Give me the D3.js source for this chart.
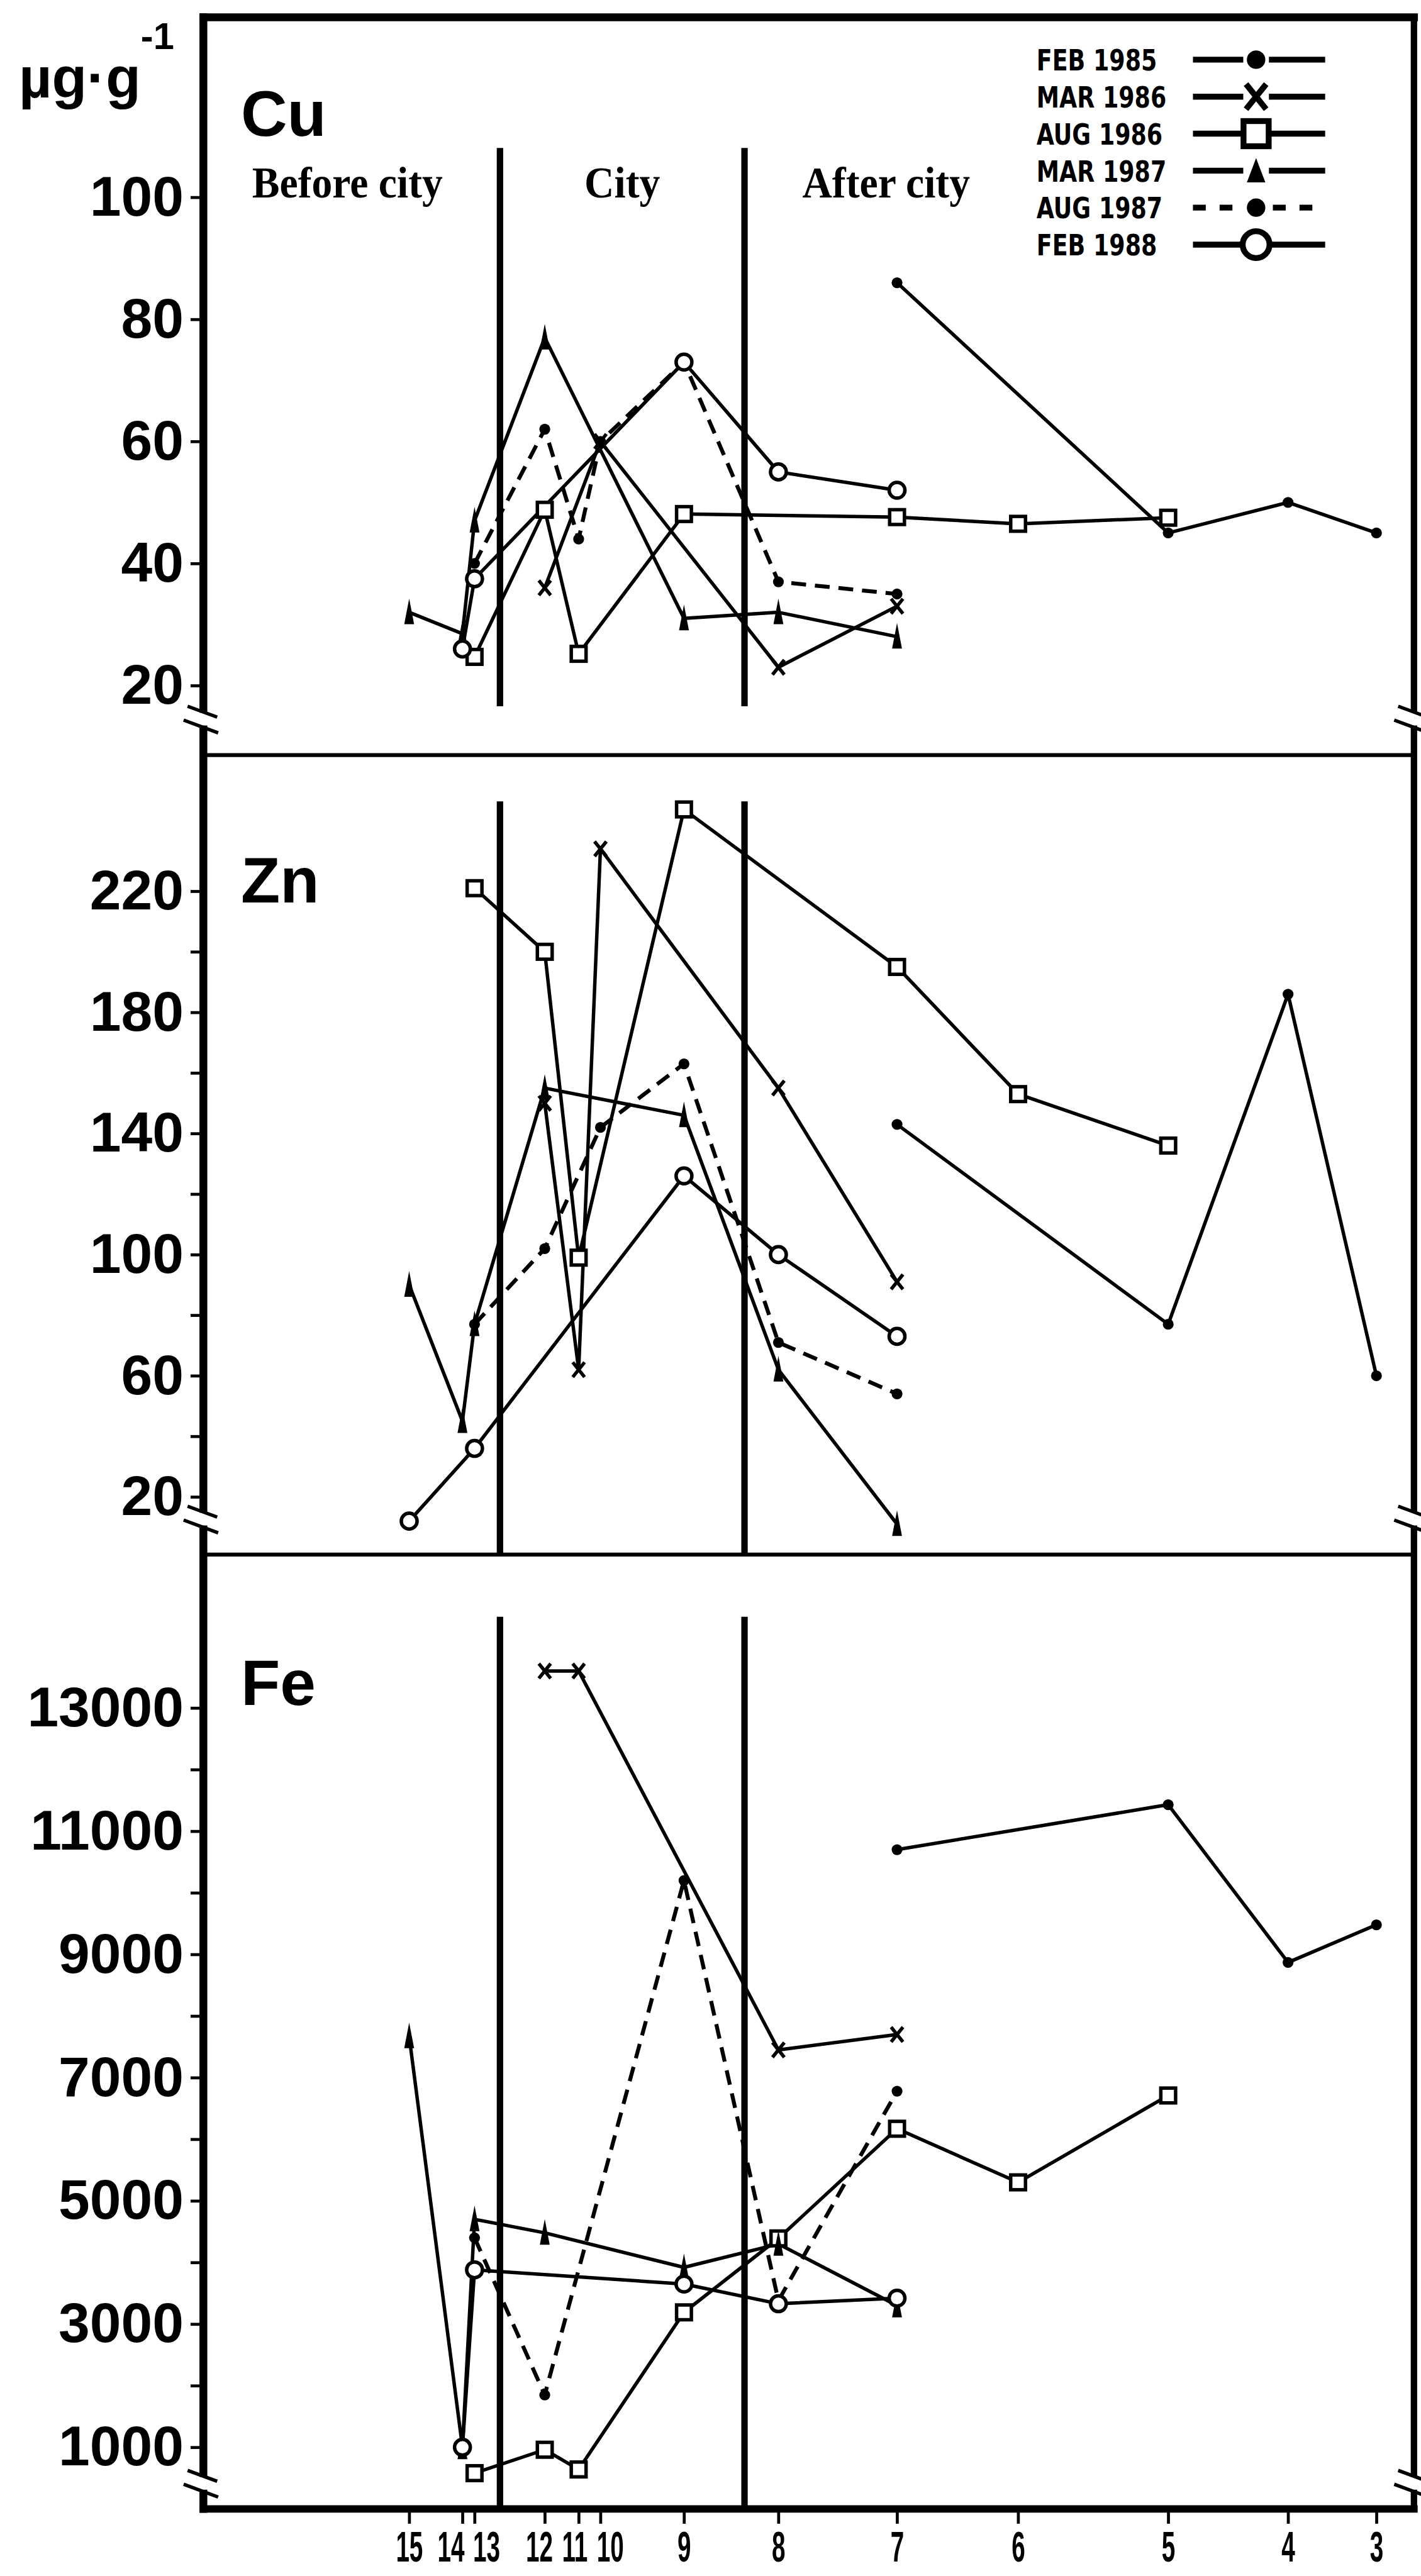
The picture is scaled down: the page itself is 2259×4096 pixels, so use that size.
<!DOCTYPE html>
<html>
<head>
<meta charset="utf-8">
<script src="https://cdn.jsdelivr.net/npm/d3@7/dist/d3.min.js"></script>
<style>
  html, body { margin: 0; padding: 0; background: #fff; }
  svg { display: block; }
</style>
</head>
<body>
<div id="chart"></div>
<script>
// sampling sites, upstream -> downstream, and their distance along the river
const sites = [15, 14, 13, 12, 11, 10, 9, 8, 7, 6, 5, 4, 3];
const siteDist = [17, 21.4, 22.4, 28.2, 31, 32.8, 39.7, 47.5, 57.3, 67.3, 79.7, 89.6, 96.9];
const cityBounds = [24.5, 44.7];
const zoneNames = ["Before city", "City", "After city"];

const surveys = ["FEB 1985", "MAR 1986", "AUG 1986", "MAR 1987", "AUG 1987", "FEB 1988"];
const surveyMarks = ["dot", "cross", "square", "spike", "dot", "circle"];
const surveyDashed = [false, false, false, false, true, false];

const cuTicks = [20, 40, 60, 80, 100];
const znTicks = [20, 60, 100, 140, 180, 220];
const znMinor = [40, 80, 120, 160, 200];
const feTicks = [1000, 3000, 5000, 7000, 9000, 11000, 13000];
const feMinor = [2000, 4000, 6000, 8000, 10000, 12000];

// [site, µg/g]
const cuFeb85 = [[7, 86], [5, 45], [4, 50], [3, 45]];
const cuMar86 = [[12, 36], [10, 60], [8, 23], [7, 33]];
const cuAug86 = [[13, 24.7], [12, 48.8], [11, 25.2], [9, 48.1], [7, 47.6], [6, 46.5], [5, 47.5]];
const cuMar87 = [[15, 32], [14, 28.5], [13, 47], [12, 77], [9, 31], [8, 32], [7, 28]];
const cuAug87 = [[13, 40], [12, 62], [11, 44], [10, 60], [9, 73], [8, 37], [7, 35]];
const cuFeb88 = [[14, 26], [13, 37.5], [9, 73], [8, 55], [7, 52]];

const znFeb85 = [[7, 143], [5, 77], [4, 186], [3, 60]];
const znMar86 = [[12, 150], [11, 62], [10, 234], [8, 155], [7, 91]];
const znAug86 = [[13, 221], [12, 200], [11, 99], [9, 247], [7, 195], [6, 153], [5, 136]];
const znMar87 = [[15, 90], [14, 45], [13, 77], [12, 155], [9, 146], [8, 62], [7, 11]];
const znAug87 = [[13, 77], [12, 102], [10, 142], [9, 163], [8, 71], [7, 54]];
const znFeb88 = [[15, 12], [13, 36], [9, 126], [8, 100], [7, 73]];

const feFeb85 = [[7, 10700], [5, 11430], [4, 8870], [3, 9480]];
const feMar86 = [[12, 13600], [11, 13600], [8, 7450], [7, 7700]];
const feAug86 = [[13, 580], [12, 960], [11, 640], [9, 3190], [8, 4390], [7, 6170], [6, 5300], [5, 6710]];
const feMar87 = [[15, 7670], [14, 1000], [13, 4700], [12, 4480], [9, 3920], [8, 4300], [7, 3300]];
const feAug87 = [[13, 4400], [12, 1850], [9, 10200], [8, 3380], [7, 6780]];
const feFeb88 = [[14, 1000], [13, 3880], [9, 3650], [8, 3330], [7, 3420]];

// ---- layout (reference pixel space, scaled by the viewBox) ----
const W = 2880, H = 5223;
const frame = {l: 412, r: 2866, t: 35, b: 5087};
const sansBold = "'Liberation Sans', Arial, Helvetica, sans-serif";

const panels = [
	{el: "Cu", top: frame.t, bottom: 1531, dom: [20, 100], rng: [1390, 400], ticks: cuTicks, minor: [],
		data: [cuFeb85, cuMar86, cuAug86, cuMar87, cuAug87, cuFeb88], sep: [300, 1432], brk: 1458, elY: 275},
	{el: "Zn", top: 1531, bottom: 3152, dom: [20, 220], rng: [3035, 1807], ticks: znTicks, minor: znMinor,
		data: [znFeb85, znMar86, znAug86, znMar87, znAug87, znFeb88], sep: [1625, 3152], brk: 3080, elY: 1830},
	{el: "Fe", top: 3152, bottom: frame.b, dom: [1000, 13000], rng: [4962, 3463], ticks: feTicks, minor: feMinor,
		data: [feFeb85, feMar86, feAug86, feMar87, feAug87, feFeb88], sep: [3278, frame.b], brk: 5035, elY: 3457}
];

const svg = d3.select("#chart").append("svg")
	.attr("width", 2259)
	.attr("height", 4096)
	.attr("viewBox", "0 0 " + W + " " + H);

svg.append("rect").attr("width", W).attr("height", H).style("fill", "#fff");

const x = d3.scaleLinear().domain([0, 100]).range([frame.l, frame.r]);
function siteX(s){
	return x(siteDist[sites.indexOf(s)]);
}

function drawMarker(g, type, cx, cy, k, inLegend){
	let m = g.append("g").attr("transform", "translate(" + cx + "," + cy + ") scale(" + k + ")");
	if(type === "dot"){
		m.append("circle").attr("r", 11).style("fill", "#000");
	}else if(type === "circle"){
		m.append("circle").attr("r", 16).style("fill", "#fff").style("stroke", "#000").style("stroke-width", 7);
	}else if(type === "square"){
		m.append("rect").attr("x", -15).attr("y", -15).attr("width", 30).attr("height", 30)
			.style("fill", "#fff").style("stroke", "#000").style("stroke-width", 7);
	}else if(type === "cross"){
		m.append("path").attr("d", "M-12,-15L12,15M-12,15L12,-15")
			.style("fill", "none").style("stroke", "#000").style("stroke-width", 7);
	}else if(type === "spike"){
		m.append("path").attr("d", inLegend ? "M0,-15L11,14L-11,14Z" : "M0,-28L10,24L-10,24Z").style("fill", "#000");
	}
}

panels.forEach(function(p){
	const y = d3.scaleLinear().domain(p.dom).range(p.rng);
	const g = svg.append("g");

	// city boundaries
	cityBounds.forEach(function(b){
		g.append("line")
			.attr("x1", x(b)).attr("x2", x(b))
			.attr("y1", p.sep[0]).attr("y2", p.sep[1])
			.style("stroke", "#000").style("stroke-width", 13);
	});

	// series lines then markers
	const line = d3.line()
		.x(function(d){ return siteX(d[0]); })
		.y(function(d){ return y(d[1]); });

	p.data.forEach(function(ser, si){
		g.append("path")
			.datum(ser)
			.attr("d", line)
			.style("fill", "none")
			.style("stroke", "#000")
			.style("stroke-width", surveyDashed[si] ? 8 : 7)
			.style("stroke-linejoin", "round")
			.style("stroke-dasharray", surveyDashed[si] ? "30,18" : null);
	});
	p.data.forEach(function(ser, si){
		ser.forEach(function(d){
			drawMarker(g, surveyMarks[si], siteX(d[0]), y(d[1]), 1, false);
		});
	});

	// y axis ticks and labels
	const yAxis = d3.axisLeft(y).tickValues(p.ticks).tickSize(26).tickPadding(14).tickFormat(d3.format("d"));
	const ag = svg.append("g").attr("transform", "translate(" + frame.l + ",0)").call(yAxis);
	if(p.minor.length){
		svg.append("g").attr("transform", "translate(" + frame.l + ",0)")
			.call(d3.axisLeft(y).tickValues(p.minor).tickSize(26).tickFormat(""))
			.call(function(s){ s.select(".domain").remove(); s.selectAll("line").style("stroke-width", 6); });
	}
	ag.select(".domain").remove();
	ag.selectAll("line").style("stroke-width", 6);
	ag.selectAll("text")
		.style("font-family", sansBold)
		.style("font-weight", "bold")
		.style("font-size", "114px")
		.style("fill", "#000");

	// element name
	svg.append("text")
		.attr("x", 488).attr("y", p.elY)
		.style("font-family", sansBold)
		.style("font-weight", "bold")
		.style("font-size", "130px")
		.text(p.el);

	// panel separator
	if(p.top !== frame.t){
		svg.append("line")
			.attr("x1", frame.l).attr("x2", frame.r)
			.attr("y1", p.top).attr("y2", p.top)
			.style("stroke", "#000").style("stroke-width", 8);
	}
});

// outer frame
const fr = svg.append("g").style("stroke", "#000").style("stroke-linecap", "square");
fr.append("line").attr("x1", frame.l).attr("x2", frame.r).attr("y1", frame.t).attr("y2", frame.t).style("stroke-width", 16);
fr.append("line").attr("x1", frame.l).attr("x2", frame.l).attr("y1", frame.t).attr("y2", frame.b).style("stroke-width", 16);
fr.append("line").attr("x1", frame.r).attr("x2", frame.r).attr("y1", frame.t).attr("y2", frame.b).style("stroke-width", 13);
fr.append("line").attr("x1", frame.l).attr("x2", frame.r).attr("y1", frame.b).attr("y2", frame.b).style("stroke-width", 15);

// axis breaks on both sides of each panel
function drawBreak(bx, by){
	svg.append("rect").attr("x", bx - 14).attr("y", by - 13).attr("width", 28).attr("height", 26).style("fill", "#fff");
	svg.append("path")
		.attr("d", "M" + (bx - 32) + "," + (by - 26) + "L" + (bx + 28) + "," + (by - 4) +
			"M" + (bx - 40) + "," + (by + 2) + "L" + (bx + 30) + "," + (by + 28))
		.style("stroke", "#000").style("stroke-width", 7).style("fill", "none");
}
panels.forEach(function(p){
	drawBreak(frame.l, p.brk);
	drawBreak(frame.r, p.brk);
});

// x axis
const xAxis = d3.axisBottom(x)
	.tickValues(siteDist)
	.tickSize(30)
	.tickPadding(14)
	.tickFormat(function(d, i){ return sites[i]; });
const xg = svg.append("g").attr("transform", "translate(0," + frame.b + ")").call(xAxis);
xg.select(".domain").remove();
xg.selectAll("line").style("stroke-width", 6);

// spread crowded tick labels apart (ticks stay at the sites)
const labelGap = 72;
let lx = siteDist.map(function(d){ return x(d); });
for(let it = 0; it < 40; it++){
	for(let i = 1; i < lx.length; i++){
		const over = labelGap - (lx[i] - lx[i - 1]);
		if(over > 0){
			lx[i - 1] -= over / 2;
			lx[i] += over / 2;
		}
	}
}
const xScaleX = 0.56;
xg.selectAll("text")
	.attr("x", function(d, i){ return (lx[i] - x(d)) / xScaleX; })
	.attr("transform", "scale(" + xScaleX + ",1)")
	.style("font-family", sansBold)
	.style("font-weight", "bold")
	.style("font-size", "88px")
	.style("fill", "#000");

// unit label
const unit = svg.append("text")
	.attr("x", 38).attr("y", 198)
	.style("font-family", sansBold)
	.style("font-weight", "bold")
	.style("font-size", "116px");
unit.append("tspan").text("µg·g");
unit.append("tspan").attr("dy", -98).style("font-size", "76px").text("-1");

// zone labels in Cu panel
const zoneX = [x(11.9), x(34.6), x(56.4)];
zoneNames.forEach(function(z, i){
	svg.append("text")
		.attr("transform", "translate(" + zoneX[i] + ",400) scale(0.93,1)")
		.attr("text-anchor", "middle")
		.style("font-family", "'Liberation Serif', 'Times New Roman', serif")
		.style("font-weight", "bold")
		.style("font-size", "90px")
		.text(z);
});

// legend
const lg = svg.append("g");
surveys.forEach(function(s, i){
	const cy = 121 + i * 75;
	lg.append("text")
		.attr("transform", "translate(2101," + (cy + 22) + ") scale(0.86,1)")
		.style("font-family", "'DejaVu Sans Condensed', 'DejaVu Sans', sans-serif")
		.style("font-weight", "bold")
		.style("font-size", "60px")
		.text(s);
	lg.append("line")
		.attr("x1", 2418).attr("x2", 2686)
		.attr("y1", cy).attr("y2", cy)
		.style("stroke", "#000").style("stroke-width", 12)
		.style("stroke-dasharray", surveyDashed[i] ? "26,28" : null);
	lg.append("rect").attr("x", 2520).attr("y", cy - 30).attr("width", 52).attr("height", 60).style("fill", "#fff");
	drawMarker(lg, surveyMarks[i], 2546, cy, 1.7, true);
});
</script>
</body>
</html>
